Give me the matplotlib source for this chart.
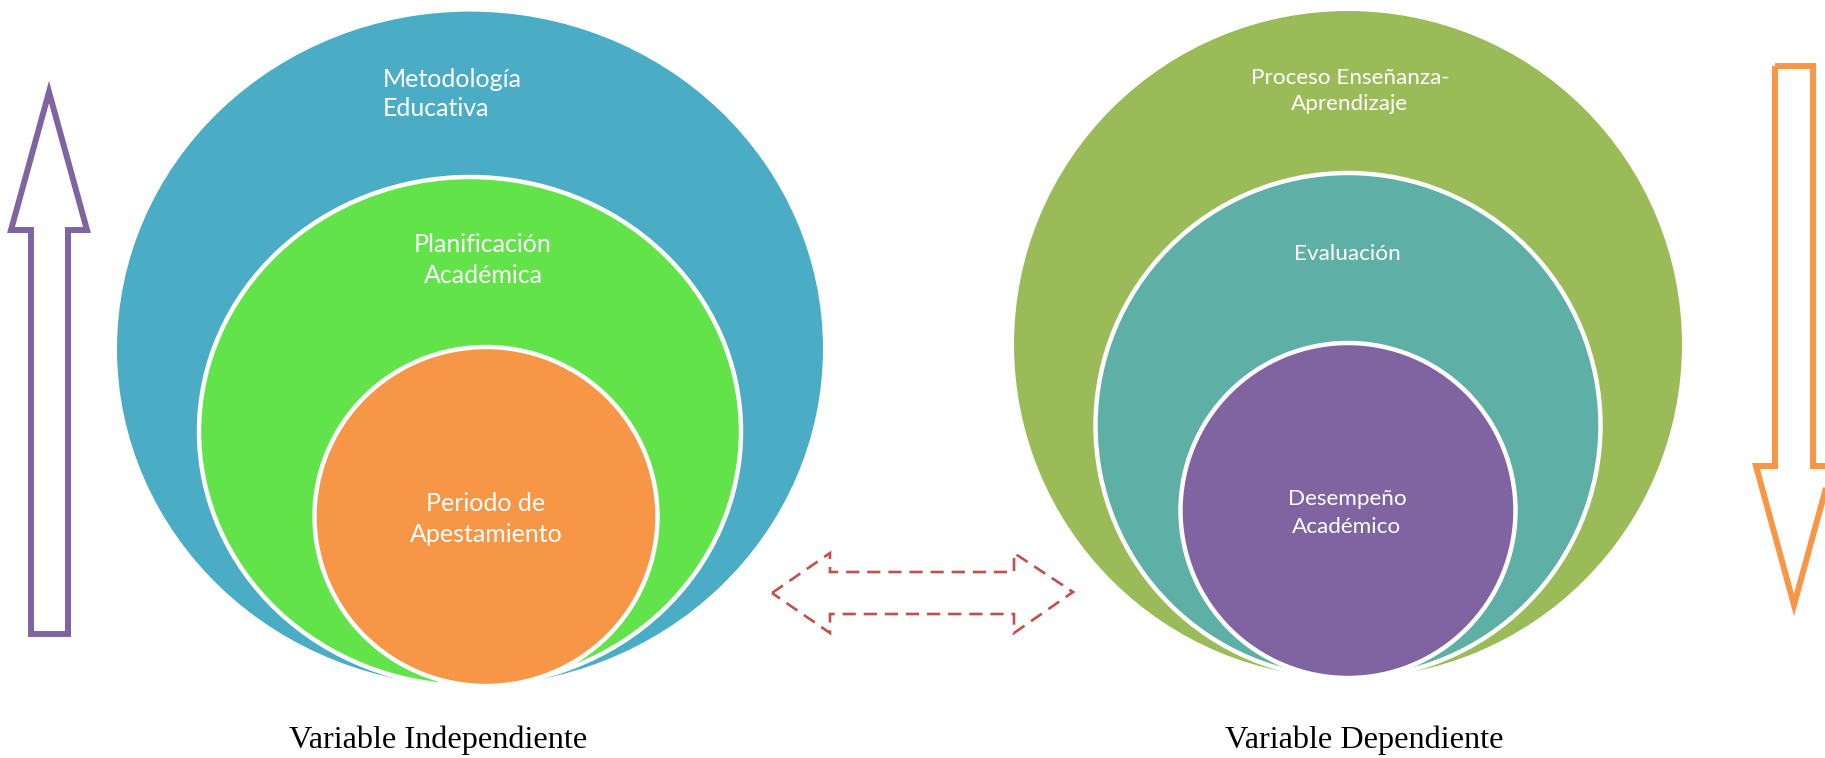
import matplotlib
matplotlib.use("Agg")
import matplotlib.pyplot as plt
from matplotlib.patches import Ellipse, Polygon

# ---- content ----
left_labels = [["Metodología", "Educativa"],
               ["Planificación", "Académica"],
               ["Periodo de", "Apestamiento"]]
right_labels = [["Proceso Enseñanza-", "Aprendizaje"],
                ["Evaluación"],
                ["Desempeño", "Académico"]]
left_colors = ["#4BACC6", "#62E34A", "#F79646"]
right_colors = ["#9BBB59", "#5EAFA6", "#8064A2"]
bottom_labels = ["Variable Independiente", "Variable Dependiente"]

# ---- layout (pixel space) ----
W, H = 1825, 758
fig = plt.figure(figsize=(W / 100, H / 100), dpi=100)
ax = fig.add_axes([0, 0, 1, 1])
ax.set_xlim(0, W)
ax.set_ylim(H, 0)
ax.axis("off")

TXT = "Lato"

def nested(shapes, colors):
    # shapes: (cx, top, bottom, rx)
    for i, ((cx, top, bottom, rx), c) in enumerate(zip(shapes, colors)):
        ry = (bottom - top) / 2
        cy = (bottom + top) / 2
        ec = "white" if i > 0 else c
        lw = 3.2 if i > 0 else 0
        ax.add_patch(Ellipse((cx, cy), 2 * rx, 2 * ry, facecolor=c, edgecolor=ec,
                             lw=lw, zorder=1 + i))

nested([(470, 11.6, 686, 353), (470, 177, 686, 271), (486, 347, 686, 171.5)],
       left_colors)
nested([(1348, 11, 678, 334), (1348, 173, 678, 252.5), (1348, 343, 678, 167.5)],
       right_colors)

def lines(x, ys, texts, size, ha="center"):
    for y, t in zip(ys, texts):
        ax.text(x, y, t, ha=ha, va="baseline", color="white", fontsize=size,
                family=TXT, zorder=10)

lines(383, [87, 116], left_labels[0], 18, ha="left")
lines(483, [252, 283], left_labels[1], 18)
lines(486, [511, 542], left_labels[2], 18)
lines(1350, [84, 110], right_labels[0], 16.2)
lines(1347, [260], right_labels[1], 16.2)
lines(1347, [505, 533], right_labels[2], 16.2)

# bottom labels
ax.text(438, 748, bottom_labels[0], ha="center", va="baseline", fontsize=23.2,
        family="Liberation Serif", color="black")
ax.text(1364, 748, bottom_labels[1], ha="center", va="baseline", fontsize=23.2,
        family="Liberation Serif", color="black")

# up arrow (purple)
up = [(49, 92), (87, 230), (68, 230), (68, 634), (31, 634), (31, 230), (11, 230)]
ax.add_patch(Polygon(up, closed=True, fill=False, edgecolor="#8064A2", lw=4.3,
                     joinstyle="miter"))
# down arrow (orange)
down = [(1775, 66), (1813, 66), (1813, 466), (1832, 466), (1794, 605),
        (1756, 466), (1775, 466)]
ax.add_patch(Polygon(down, closed=True, fill=False, edgecolor="#F79646", lw=4.3,
                     joinstyle="miter", clip_on=False))
# dashed double arrow
dbl = [(772, 593), (830, 553), (830, 572), (1014, 572), (1014, 553), (1073, 592),
       (1014, 633), (1014, 614), (830, 614), (830, 633)]
ax.add_patch(Polygon(dbl, closed=True, fill=False, edgecolor="#C0504D", lw=1.9,
                     linestyle=(0, (5, 3))))

fig.savefig("out.png", dpi=100)
